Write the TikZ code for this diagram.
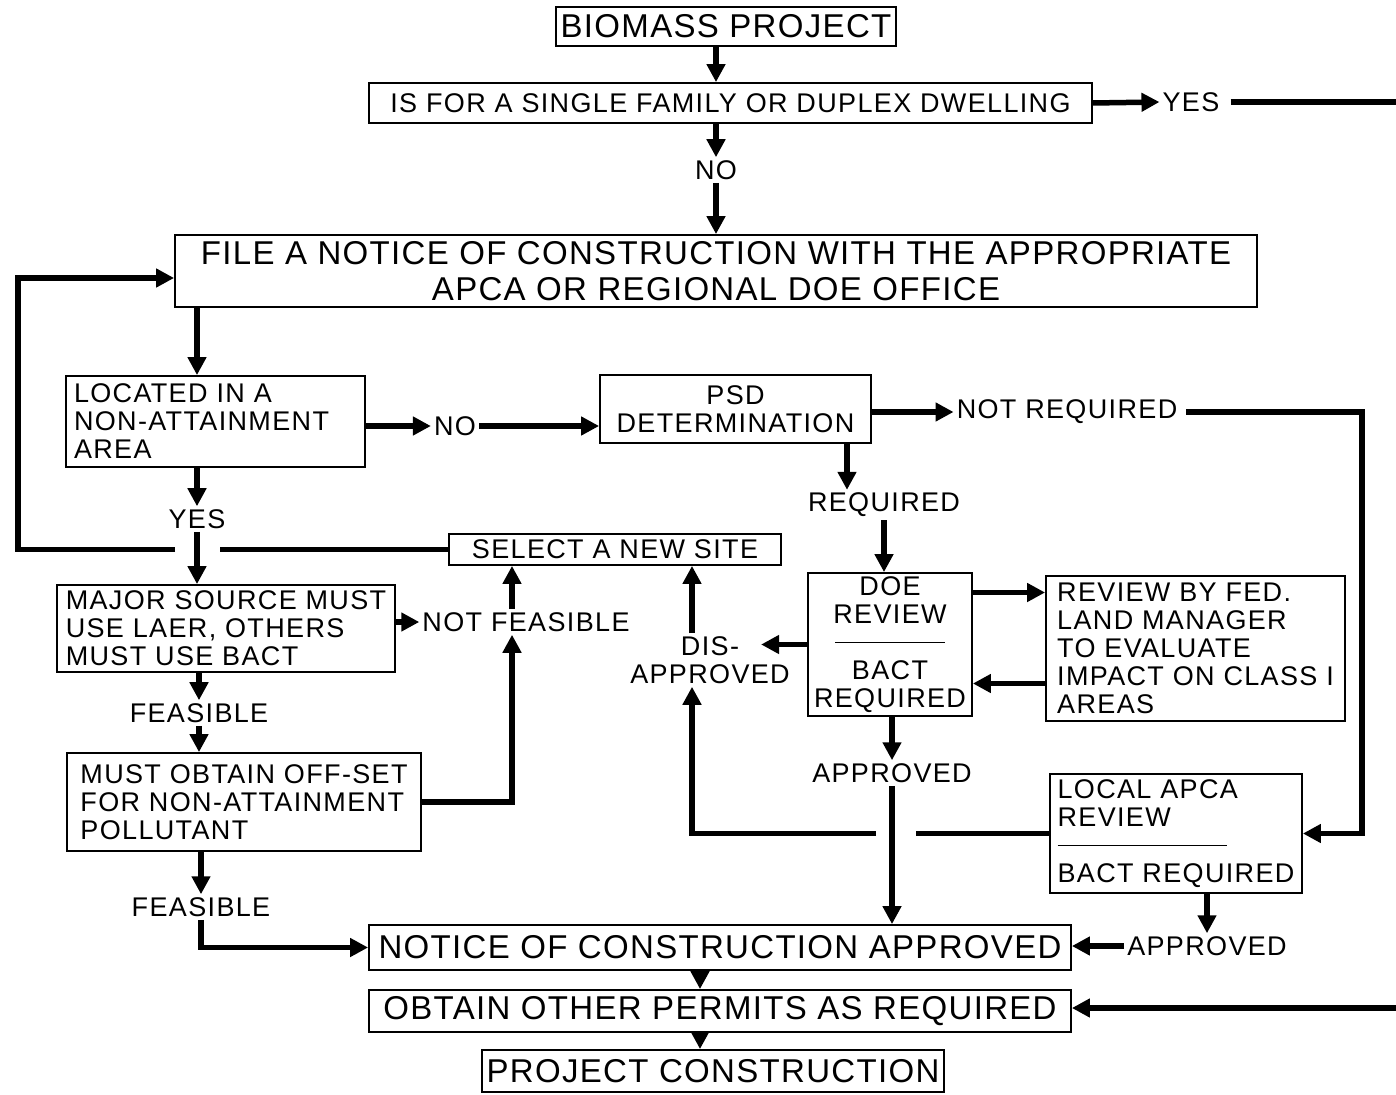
\documentclass[tikz,border=0pt]{standalone}
\usepackage{fontspec}
\setmainfont{Liberation Sans}
\newfontfamily\bigfam[LetterSpace=4]{Liberation Sans}
\newfontfamily\midfam[LetterSpace=5]{Liberation Sans}
\usetikzlibrary{arrows.meta, positioning}

\newcommand{\bigtxt}{\bigfam\fontsize{33}{36}\selectfont}
\newcommand{\midtxt}{\midfam\fontsize{27}{28}\selectfont}

\begin{document}
\begin{tikzpicture}[x=1pt, y=-1pt,
  box/.style={draw, line width=1.8pt, inner sep=0pt, font=\midtxt},
  bigbox/.style={box, font=\bigtxt},
  note/.style={box, align=left},
  tag/.style={inner sep=3pt, font=\midtxt},
  bar/.style={line width=5.5pt},
  flow/.style={bar, -{Triangle[length=18pt, width=18pt]}}]

\useasboundingbox (0,0) rectangle (1396,1094);

\node[bigbox, minimum width=340pt, minimum height=39pt] (bio) at (726,26.5) {BIOMASS PROJECT};
\node[box, minimum width=723pt, minimum height=40pt] (single) at (730.5,103) {IS FOR A SINGLE FAMILY OR DUPLEX DWELLING};
\node[tag] (yesA) at (1191,102) {YES};
\node[tag] (noA) at (716,170) {NO};
\node[bigbox, minimum width=1082pt, minimum height=72pt, align=center] (file) at (716,271) {FILE A NOTICE OF CONSTRUCTION WITH THE APPROPRIATE\\APCA OR REGIONAL DOE OFFICE};

\node[note, text width=283pt, inner xsep=8pt, minimum height=91pt] (located) at (215.5,421.5) {LOCATED IN A\\NON-ATTAINMENT\\AREA};
\node[tag] (noB) at (455,426) {NO};
\node[box, minimum width=271pt, minimum height=68pt, align=center] (psd) at (735.5,409) {PSD\\DETERMINATION};
\node[tag] (notreq) at (1067,412) {NOT REQUIRED};
\node[tag] (req) at (884,505) {REQUIRED};

\node[tag] (yesB) at (197,519) {YES};
\node[box, minimum width=332pt, minimum height=31pt] (select) at (615,549.5) {SELECT A NEW SITE};
\node[note, minimum width=338pt, minimum height=87pt] (major) at (226,628.5) {MAJOR SOURCE MUST\\USE LAER, OTHERS\\MUST USE BACT};
\node[tag] (notfeas) at (526,622) {NOT FEASIBLE};
\node[tag] (feasA) at (199,713) {FEASIBLE};
\node[note, minimum width=354pt, minimum height=98pt] (offset) at (244,802) {MUST OBTAIN OFF-SET\\FOR NON-ATTAINMENT\\POLLUTANT};
\node[tag] (feasB) at (201,907) {FEASIBLE};

\node[box, minimum width=164pt, minimum height=143pt, align=center] (doe) at (890,644.5) {DOE\\REVIEW\\\rule[0.3em]{110pt}{1.5pt}\\BACT\\REQUIRED};
\node[note, minimum width=299pt, minimum height=145pt] (fed) at (1195.5,648.5) {REVIEW BY FED.\\LAND MANAGER\\TO EVALUATE\\IMPACT ON CLASS I\\AREAS};
\node[tag, align=center] (disapp) at (710,660) {DIS-\\APPROVED};
\node[tag] (appA) at (892,773) {APPROVED};
\node[note, minimum width=252pt, minimum height=119pt] (local) at (1176,833.5) {LOCAL APCA\\REVIEW\\\rule[0.3em]{169pt}{1.5pt}\\BACT REQUIRED};
\node[tag] (appB) at (1207,946) {APPROVED};

\node[bigbox, minimum width=702pt, minimum height=45pt] (notice) at (720,947.5) {NOTICE OF CONSTRUCTION APPROVED};
\node[bigbox, minimum width=702pt, minimum height=42pt] (obtain) at (720,1011) {OBTAIN OTHER PERMITS AS REQUIRED};
\node[bigbox, minimum width=462pt, minimum height=42pt] (project) at (713,1071) {PROJECT CONSTRUCTION};

\coordinate (edgeA) at (1396,102);
\coordinate (edgeB) at (1396,1008);
\coordinate (loopL) at (18,549.5);
\coordinate (gapAL) at (175,549.5);
\coordinate (gapAR) at (220,549.5);
\coordinate (gapBL) at (876,833.5);
\coordinate (gapBR) at (916,833.5);
\coordinate (runR) at (1362,600);
\coordinate (colN) at (512,0);
\coordinate (colD) at (692,0);
\coordinate (colP) at (847,0);
\coordinate (colC) at (700,0);
\coordinate (doeUp) at ([yshift=52pt]doe.east);
\coordinate (fedLo) at ([yshift=-35pt]fed.west);
\coordinate (disTip) at ([xshift=-46pt]doe.west);

\draw[flow] (bio.south -| noA) -- (single.north -| noA);
\draw[flow] (single.south -| noA) -- (noA.north);
\draw[flow] (noA.south) -- (file.north -| noA);
\draw[flow] (single.east) -- (yesA.west);
\draw[bar] ([xshift=8pt]yesA.east) -- (edgeA);
\draw[flow] (edgeB) -- (edgeB -| obtain.east);

\draw[flow] (file.south -| yesB) -- (located.north -| yesB);
\draw[flow] (located.south -| yesB) -- (yesB.north);
\draw[flow] (yesB.south) -- (major.north -| yesB);
\draw[bar] (select.west) -- (gapAR);
\draw[flow] (gapAL) -- (loopL) |- ([yshift=-7pt]file.west);

\draw[flow] (located.east |- noB) -- (noB.west);
\draw[flow] (noB.east) -- (noB -| psd.west);
\draw[flow] (psd.east |- notreq) -- (notreq.west);
\draw[flow] ([xshift=6pt]notreq.east) -| (runR) |- (local.east);
\draw[flow] (psd.south -| colP) -- (req.north -| colP);
\draw[flow] (req.south) -- (doe.north -| req);

\draw[flow] (doeUp) -- (doeUp -| fed.west);
\draw[flow] (fedLo) -- (fedLo -| doe.east);
\draw[flow] (doe.west) -- (disTip);
\draw[flow] (disapp.north -| colD) -- (select.south -| colD);
\draw[bar] (local.west) -- (gapBR);
\draw[flow] (gapBL) -| (disapp.south -| colD);
\draw[flow] (doe.south -| appA) -- (appA.north);
\draw[flow] (appA.south) -- (notice.north -| appA);
\draw[flow] (local.south -| appB) -- (appB.north);
\draw[flow] (appB.west) -- (appB -| notice.east);

\draw[flow] (major.east |- notfeas) -- (notfeas.west);
\draw[flow] (notfeas.north -| colN) -- (select.south -| colN);
\draw[flow] (offset.east) -| (notfeas.south -| colN);
\draw[flow] (major.south -| feasA) -- (feasA.north);
\draw[flow] (feasA.south) -- (offset.north -| feasA);
\draw[flow] (offset.south -| feasB) -- (feasB.north);
\draw[flow] (feasB.south) |- (notice.west);

\draw[flow] (notice.south -| colC) -- (obtain.north -| colC);
\draw[flow] (obtain.south -| colC) -- (project.north -| colC);
\end{tikzpicture}
\end{document}
